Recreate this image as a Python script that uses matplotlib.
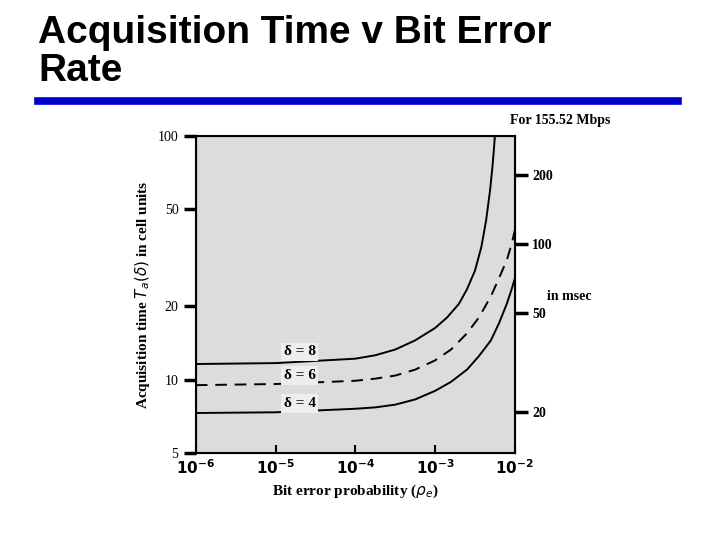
import matplotlib
matplotlib.use('Agg')
import matplotlib.pyplot as plt
import numpy as np

# values (x as log10 of bit error probability)
d8_logx = [-6, -5, -4, -3.75, -3.5, -3.25, -3, -2.85, -2.7, -2.6, -2.5, -2.42, -2.36, -2.31, -2.28, -2.26, -2.25]
d8_y = [11.6, 11.7, 12.2, 12.6, 13.3, 14.5, 16.3, 18, 20.5, 23.5, 28, 35, 45, 60, 75, 90, 100]
d6_logx = [-6, -5, -4, -3.75, -3.5, -3.25, -3, -2.8, -2.6, -2.45, -2.3, -2.2, -2.1, -2.04, -2.0]
d6_y = [9.5, 9.6, 9.9, 10.1, 10.4, 11, 12, 13.3, 15.5, 18, 22, 26, 31, 36, 41]
d4_logx = [-6, -5, -4, -3.75, -3.5, -3.25, -3, -2.8, -2.6, -2.45, -2.3, -2.2, -2.1, -2.04, -2.0]
d4_y = [7.3, 7.35, 7.6, 7.7, 7.9, 8.3, 9, 9.8, 11, 12.5, 14.5, 17, 20.5, 23.5, 26]

left_ticks = [5, 10, 20, 50, 100]
right_labels = ['200', '100', '50', '20']
right_pos = [69, 36, 18.8, 7.4]

serif = 'Liberation Serif'
fig = plt.figure(figsize=(7.2, 5.4), dpi=100)
fig.text(0.053, 0.972, 'Acquisition Time v Bit Error\nRate', fontsize=28, fontweight='bold',
         family='Liberation Sans', va='top', ha='left', linespacing=1.05)
fig.add_artist(plt.Line2D([0.053, 0.942], [0.813, 0.813], color='#0000cc', lw=5.5))

ax = fig.add_axes([0.272, 0.161, 0.443, 0.587])
ax.set_facecolor('#dcdcdc')
ax.set_xscale('log'); ax.set_yscale('log')
ax.set_xlim(1e-6, 1e-2); ax.set_ylim(5, 100)
for lx, y, ls in [(d8_logx, d8_y, '-'), (d6_logx, d6_y, (0, (6, 4))), (d4_logx, d4_y, '-')]:
    ax.plot(10.0 ** np.array(lx), y, color='black', lw=1.4, ls=ls)

ax.set_yticks(left_ticks)
ax.set_yticklabels([str(t) for t in left_ticks], family=serif, fontsize=10)
ax.yaxis.set_minor_locator(matplotlib.ticker.NullLocator())
ax.tick_params(axis='y', direction='out', length=9, width=2.5)
ax.set_xticks([1e-6, 1e-5, 1e-4, 1e-3, 1e-2])
ax.set_xticklabels([r'$\mathbf{10^{-%d}}$' % k for k in [6, 5, 4, 3, 2]], fontsize=11)
ax.xaxis.set_minor_locator(matplotlib.ticker.NullLocator())
ax.tick_params(axis='x', direction='in', length=6, width=1.5)
for s in ax.spines.values():
    s.set_linewidth(1.5)

ax2 = ax.twinx()
ax2.set_yscale('log'); ax2.set_ylim(5, 100)
ax2.set_yticks(right_pos)
ax2.set_yticklabels(right_labels, family=serif, fontsize=10, fontweight='bold')
ax2.yaxis.set_minor_locator(matplotlib.ticker.NullLocator())
ax2.tick_params(axis='y', direction='out', length=9, width=2.5)

ax.set_xlabel(r'Bit error probability ($\rho_e$)', family=serif, fontsize=11, fontweight='bold')
ax.set_ylabel(r'Acquisition time $T_a(\delta)$ in cell units', family=serif, fontsize=11, fontweight='bold')
fig.text(0.778, 0.77, 'For 155.52 Mbps', family=serif, fontsize=10, fontweight='bold', ha='center')
fig.text(0.76, 0.445, 'in msec', family=serif, fontsize=10, fontweight='bold', ha='left')
for lbl, y in [('δ = 8', 13.0), ('δ = 6', 10.4), ('δ = 4', 8.0)]:
    ax.text(10**-4.7, y, lbl, family=serif, fontsize=11, fontweight='bold', ha='center', va='center',
            bbox=dict(facecolor='#eeeeee', edgecolor='none', pad=2))

fig.savefig('out.png', dpi=100, facecolor='white')
